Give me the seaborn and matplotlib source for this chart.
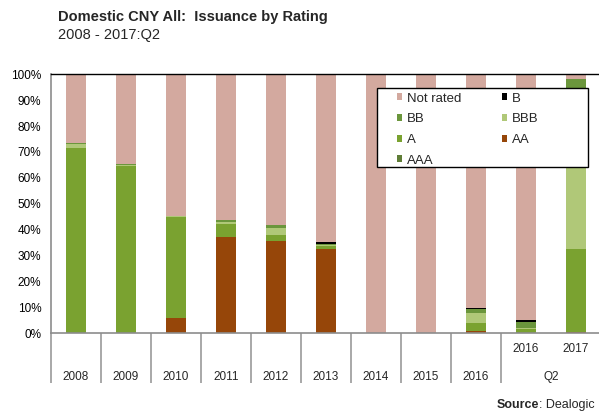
import matplotlib
matplotlib.use("Agg")
import matplotlib.pyplot as plt
from matplotlib.patches import Patch, Rectangle
from matplotlib.ticker import FuncFormatter
import numpy as np
import pandas as pd
import seaborn as sns

# Period keys (unique) and the labels printed under each bar
period_keys = ["2008", "2009", "2010", "2011", "2012", "2013", "2014",
               "2015", "2016", "2016 Q2", "2017 Q2"]
period_labels = ["2008", "2009", "2010", "2011", "2012", "2013", "2014",
                 "2015", "2016", "2016", "2017"]
group_label = "Q2"

# Share of issuance by rating, % (stack order bottom -> top)
aaa = [0, 0, 0, 0, 0, 0, 0, 0, 0, 0, 0]
aa = [0, 0, 5.8, 37.3, 35.8, 32.7, 0, 0, 0.8, 0, 0.4]
a = [71.5, 64.6, 39.0, 5.0, 2.3, 0.9, 0, 0, 3.3, 1.5, 32.0]
bbb = [1.6, 0.5, 0.6, 0.6, 2.7, 0.6, 0, 0, 3.6, 0.6, 35.0]
bb = [0.5, 0.3, 0, 0.8, 0.9, 0.3, 0, 0, 1.8, 2.2, 30.7]
b = [0, 0, 0, 0, 0, 0.6, 0, 0, 0.4, 0.8, 0]
not_rated = [26.4, 34.6, 54.6, 56.3, 58.3, 64.9, 100, 100, 90.1, 94.9, 1.9]

series_names = ["AAA", "AA", "A", "BBB", "BB", "B", "Not rated"]
series_values = [aaa, aa, a, bbb, bb, b, not_rated]
colors = {
    "Not rated": "#D3A99F",
    "B": "#000000",
    "BB": "#6B963C",
    "BBB": "#B0C878",
    "A": "#7AA230",
    "AA": "#964609",
    "AAA": "#5F7D37",
}

df = pd.DataFrame(dict(zip(series_names, series_values)), index=period_keys)
cum = df.cumsum(axis=1)

sns.set_theme(style="white")
plt.rcParams["font.family"] = ["Liberation Sans", "DejaVu Sans"]

W, H = 599, 416
fig = plt.figure(figsize=(W / 100, H / 100), dpi=100)
ax = fig.add_axes([51 / W, (H - 333.3) / H, 550 / W, 259 / H])

# Stacked bars: draw cumulative totals from the top layer down
for name in reversed(series_names):
    sns.barplot(x=period_keys, y=cum[name].values, order=period_keys,
                color=colors[name], saturation=1, width=0.4,
                errorbar=None, linewidth=0, ax=ax)

ax.set_xlim(-0.5, len(period_keys) - 0.5)
ax.set_ylim(0, 100)
ax.set_yticks(np.arange(0, 101, 10))
ax.yaxis.set_major_formatter(FuncFormatter(lambda v, p: f"{v:.0f}%"))
ax.tick_params(axis="y", length=0, pad=7, labelsize=8.5, labelcolor="black")
ax.set_xticks([])
ax.set_xlabel("")
ax.set_ylabel("")
ax.grid(False)

for s in ("left", "bottom"):
    ax.spines[s].set_color("#8C8C8C")
    ax.spines[s].set_linewidth(1.2)
ax.spines["top"].set_color("black")
ax.spines["top"].set_linewidth(1.0)
ax.spines["right"].set_visible(False)

# Category separators below the axis
xt = ax.get_xaxis_transform()
sep_x = [i - 0.5 for i in range(10)] + [len(period_keys) - 0.5]
ax.vlines(sep_x, -0.192, 0, transform=xt, colors="#999999",
          linewidth=1.2, clip_on=False)

for i, lab in enumerate(period_labels):
    y = -0.06 if i >= 9 else -0.169
    ax.text(i, y, lab, transform=xt, ha="center", va="center", fontsize=8.5)
ax.text(9.5, -0.169, group_label, transform=xt, ha="center", va="center",
        fontsize=8.5)

# Titles
fig.text(58 / W, 1 - 20.5 / H, "Domestic CNY All:  Issuance by Rating",
         fontsize=10.5, fontweight="bold", va="baseline", ha="left")
fig.text(58 / W, 1 - 38.5 / H, "2008 - 2017:Q2", fontsize=10.5,
         va="baseline", ha="left")

# Legend box and entries
fig.add_artist(Rectangle((377 / W, (H - 167) / H), 211 / W, 79 / H,
                         transform=fig.transFigure, facecolor="white",
                         edgecolor="black", linewidth=1.0, zorder=2))
legend_order = ["Not rated", "BB", "A", "AAA", "B", "BBB", "AA"]
handles = [Patch(facecolor=colors[n], edgecolor="none", label=n)
           for n in legend_order]
fig.legend(handles=handles, ncol=2, loc="upper left",
           bbox_to_anchor=(397 / W, 1 - 92.5 / H),
           bbox_transform=fig.transFigure, frameon=False, fontsize=9.5,
           borderpad=0, borderaxespad=0, handlelength=0.4, handleheight=0.45,
           handletextpad=0.35, labelspacing=0.66, columnspacing=3.1)

# Source note: bold lead-in followed by regular text
fig.canvas.draw()
renderer = fig.canvas.get_renderer()
src = fig.text(595 / W, 1 - 408 / H, ": Dealogic", fontsize=9,
               ha="right", va="baseline")
bb_src = src.get_window_extent(renderer)
fig.text(bb_src.x0 / (W), 1 - 408 / H, "Source", fontsize=9,
         fontweight="bold", ha="right", va="baseline")

fig.savefig("out.png", dpi=100)
